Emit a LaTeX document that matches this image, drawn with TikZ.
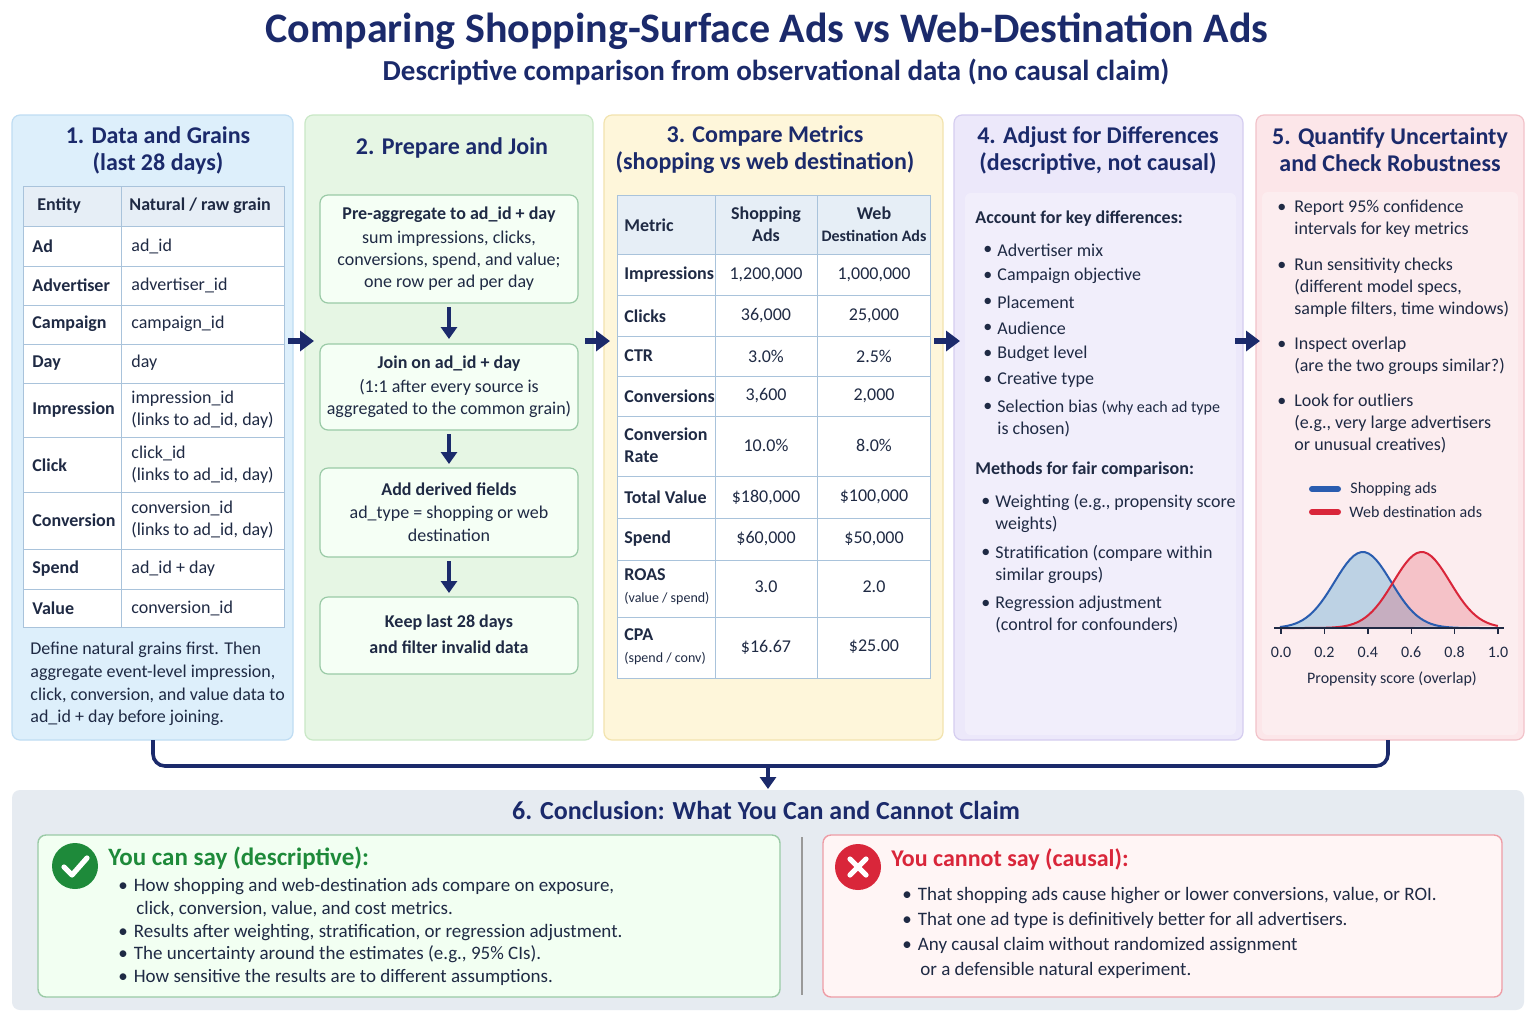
\documentclass[tikz,border=0pt]{standalone}
\usepackage{fontspec}
\setmainfont{Carlito}
\usetikzlibrary{arrows.meta, calc}
\definecolor{navy}{HTML}{1B2A6B}
\definecolor{ink}{HTML}{1F2A44}
\definecolor{tabline}{HTML}{A9C3DB}
\definecolor{tabhead}{HTML}{E6EEF6}
\definecolor{okgreen}{HTML}{1E8A3A}
\definecolor{nored}{HTML}{D9263A}
\definecolor{shopblue}{HTML}{2A5DB0}
\definecolor{fillA}{HTML}{DDEFFB}\definecolor{lineA}{HTML}{BFDDF3}
\definecolor{fillB}{HTML}{E6F6E4}\definecolor{lineB}{HTML}{C9E8C6}
\definecolor{fillC}{HTML}{FEF6DA}\definecolor{lineC}{HTML}{F2E3AE}
\definecolor{fillD}{HTML}{ECE8FA}\definecolor{lineD}{HTML}{D5CDF0}
\definecolor{fillE}{HTML}{FCE6E9}\definecolor{lineE}{HTML}{F2C2C9}
\definecolor{fillF}{HTML}{E6EBF1}
\newcommand{\fs}[2]{\fontsize{#1}{#2}\selectfont}
\tikzset{
  panel/.style={draw=line#1, fill=fill#1, rounded corners=4pt, line width=0.6pt},
  ptitle/.style={font=\fs{12}{13.5}\bfseries, text=navy, align=center},
  txt/.style={font=\fs{9}{11}, text=ink, anchor=west, align=left, inner sep=0pt},
  btxt/.style={txt, font=\fs{9}{11}\bfseries},
  ctxt/.style={font=\fs{9}{11}, text=ink, align=center, inner sep=0pt},
  flowbox/.style={draw=okgreen!45, fill=green!4, rounded corners=4pt, line width=0.6pt},
  down/.style={-{Triangle[length=6pt,width=8pt]}, line width=1.8pt, color=navy},
  stepArrow/.style={-{Triangle[length=7pt,width=10pt]}, line width=2.6pt, color=navy},
}
\begin{document}
\begin{tikzpicture}[x=0.5pt, y=-0.5pt]
\useasboundingbox (0,0) rectangle (1536,1024);
\fill[white] (0,0) rectangle (1536,1024);

% Title
\node[font=\fs{21}{23}\bfseries, text=navy] (title) at (767,31) {Comparing Shopping-Surface Ads vs Web-Destination Ads};
\node[font=\fs{14.5}{16}\bfseries, text=navy] (subtitle) at (776,72) {Descriptive comparison from observational data (no causal claim)};

% Panels
\draw[panel=A] (12,115) rectangle (293,740);
\draw[panel=B] (305,115) rectangle (593,740);
\draw[panel=C] (604,115) rectangle (943,740);
\draw[panel=D] (954,115) rectangle (1243,740);
\draw[panel=E] (1256,115) rectangle (1524,740);

% 1. Data and Grains
\node[ptitle] (t-1) at (158,150) {1. Data and Grains\\(last 28 days)};
\fill[white] (23,186) rectangle (284,627);
\fill[tabhead] (23,186) rectangle (284,226);
\draw[tabline, line width=0.5pt] (23,186) rectangle (284,627);
\draw[tabline, line width=0.5pt] (121,186) -- (121,627);
\foreach \y in {226,266,305,344,383,437,492,549,589}
  \draw[tabline, line width=0.5pt] (23,\y) -- (284,\y);
\node[btxt] (h-ent) at (37,206) {Entity};
\node[btxt] (h-grain) at (129,206) {Natural / raw grain};
\foreach \y/\a/\b [count=\i] in {
    246/Ad/ad\_id,
    285/Advertiser/advertiser\_id,
    324/Campaign/campaign\_id,
    363/Day/day,
    410/Impression/{impression\_id\\(links to ad\_id, day)},
    465/Click/{click\_id\\(links to ad\_id, day)},
    520/Conversion/{conversion\_id\\(links to ad\_id, day)},
    569/Spend/ad\_id + day,
    608/Value/conversion\_id}{
  \node[btxt] (e-\i) at (32,\y) {\a};
  \node[txt] (g-\i) at (131,\y) {\b};
}
\node[txt, font=\fs{9}{11.3}] (note-1) at (30,684) {Define natural grains first. Then\\aggregate event-level impression,\\click, conversion, and value data to\\ad\_id + day before joining.};

% 2. Prepare and Join
\node[ptitle] (t-2) at (452,148) {2. Prepare and Join};
\draw[flowbox] (320,195) rectangle (578,303);
\draw[flowbox] (320,344) rectangle (578,430);
\draw[flowbox] (320,468) rectangle (578,557);
\draw[flowbox] (320,597) rectangle (578,674);
\node[ctxt] (f-1) at (449,249) {\textbf{Pre-aggregate to ad\_id + day}\\[1pt]sum impressions, clicks,\\conversions, spend, and value;\\one row per ad per day};
\node[ctxt] (f-2) at (449,387) {\textbf{Join on ad\_id + day}\\[1pt](1:1 after every source is\\aggregated to the common grain)};
\node[ctxt, font=\fs{9}{11.5}] (f-3) at (449,512) {\textbf{Add derived fields}\\ad\_type = shopping or web\\destination};
\node[ctxt, font=\fs{9}{13}\bfseries] (f-4) at (449,634) {Keep last 28 days\\and filter invalid data};
\coordinate (a1) at (449,307); \coordinate (a2) at (449,339);
\coordinate (b1) at (449,434); \coordinate (b2) at (449,464);
\coordinate (c1) at (449,561); \coordinate (c2) at (449,593);
\draw[down] (a1) -- (a2);
\draw[down] (b1) -- (b2);
\draw[down] (c1) -- (c2);

% 3. Compare Metrics
\node[ptitle] (t-3) at (765,150) {3. Compare Metrics\\(shopping vs web destination)};
\fill[white] (617,195) rectangle (930,678);
\fill[tabhead] (617,195) rectangle (930,254);
\draw[tabline, line width=0.5pt] (617,195) rectangle (930,678);
\draw[tabline, line width=0.5pt] (715,195) -- (715,678);
\draw[tabline, line width=0.5pt] (817,195) -- (817,678);
\foreach \y in {254,295,336,376,416,476,518,560,617}
  \draw[tabline, line width=0.5pt] (617,\y) -- (930,\y);
\node[btxt] (m-h) at (624,225) {Metric};
\node[ctxt, font=\fs{9}{11}\bfseries] (s-h) at (766,224) {Shopping\\Ads};
\node[ctxt, font=\fs{9}{11}\bfseries] (w-h) at (874,224) {Web\\{\fs{8}{11}Destination Ads}};
\foreach \y/\m/\s/\w [count=\i] in {
    275/Impressions/{1,200,000}/{1,000,000},
    316/Clicks/{36,000}/{25,000},
    356/CTR/3.0\%/2.5\%,
    396/Conversions/{3,600}/{2,000},
    445/{Conversion\\Rate}/10.0\%/8.0\%,
    497/Total Value/{\$180,000}/{\$100,000},
    539/Spend/{\$60,000}/{\$50,000},
    587/{ROAS\\{\mdseries\fs{7}{10}(value / spend)}}/3.0/2.0,
    647/{CPA\\{\mdseries\fs{7}{10}(spend / conv)}}/{\$16.67}/{\$25.00}}{
  \node[btxt] (m-\i) at (624,\y) {\m};
  \node[ctxt] (s-\i) at (766,\y) {\s};
  \node[ctxt] (w-\i) at (874,\y) {\w};
}

% 4. Adjust for Differences
\node[ptitle] (t-4) at (1098,150) {4. Adjust for Differences\\(descriptive, not causal)};
\fill[white, opacity=0.3, rounded corners=3pt] (965,193) rectangle (1236,735);
\node[btxt] (k-h) at (975,219) {Account for key differences:};
\foreach \t [count=\i] in {Advertiser mix, Campaign objective, Placement, Audience, Budget level, Creative type}{
  \node[txt] (kb-\i) at (983,{224+26*\i}) {\textbullet};
  \node[txt] (k-\i) at (997,{224+26*\i}) {\t};
}
\node[txt] (kb-7) at (983,407) {\textbullet};
\node[txt] (k-7) at (997,418) {Selection bias {\fs{8}{11}(why each ad type}\\is chosen)};
\node[btxt] (f-h) at (975,470) {Methods for fair comparison:};
\foreach \y/\t [count=\i] in {502/{Weighting (e.g., propensity score\\weights)}, 553/{Stratification (compare within\\similar groups)}, 604/{Regression adjustment\\(control for confounders)}}{
  \node[txt] (fb-\i) at (981,\y) {\textbullet};
  \node[txt, anchor=north west] (fm-\i) at (995,{\y-8}) {\t};
}

% 5. Quantify Uncertainty
\node[ptitle] (t-5) at (1390,150) {5. Quantify Uncertainty\\and Check Robustness};
\fill[white, opacity=0.3, rounded corners=3pt] (1262,192) rectangle (1518,735);
\foreach \y/\t [count=\i] in {208/{Report 95\% confidence\\intervals for key metrics},
    266/{Run sensitivity checks\\(different model specs,\\sample filters, time windows)},
    345/{Inspect overlap\\(are the two groups similar?)},
    402/{Look for outliers\\(e.g., very large advertisers\\or unusual creatives)}}{
  \node[txt] (qb-\i) at (1277,\y) {\textbullet};
  \node[txt, anchor=north west] (q-\i) at (1294,{\y-8}) {\t};
}
\coordinate (lg1a) at (1312,489); \coordinate (lg1b) at (1338,489);
\coordinate (lg2a) at (1312,512); \coordinate (lg2b) at (1338,512);
\draw[line width=3pt, color=shopblue, line cap=round] (lg1a) -- (lg1b);
\draw[line width=3pt, color=nored, line cap=round] (lg2a) -- (lg2b);
\node[txt, font=\fs{8}{10}] (lg-1) at (1350,489) {Shopping ads};
\node[txt, font=\fs{8}{10}] (lg-2) at (1349,512) {Web destination ads};
\fill[shopblue!70!cyan, opacity=0.28] plot[domain=0:1, samples=60] ({1280+218*\x},{628-76*exp(-((\x-0.38)^2)/(2*0.13^2))}) -- cycle;
\fill[nored!80!pink, opacity=0.25] plot[domain=0:1, samples=60] ({1280+218*\x},{628-76*exp(-((\x-0.65)^2)/(2*0.13^2))}) -- cycle;
\draw[line width=1pt, color=shopblue] plot[domain=0:1, samples=60] ({1280+218*\x},{628-76*exp(-((\x-0.38)^2)/(2*0.13^2))});
\draw[line width=1pt, color=nored] plot[domain=0:1, samples=60] ({1280+218*\x},{628-76*exp(-((\x-0.65)^2)/(2*0.13^2))});
\coordinate (ax-l) at (1274,628); \coordinate (ax-r) at (1504,628);
\draw[ink, line width=0.7pt] (ax-l) -- (ax-r);
\foreach \v [count=\i] in {0.0,0.2,0.4,0.6,0.8,1.0}{
  \draw[ink, line width=0.7pt] ({1281+217*\v},628) -- ({1281+217*\v},634);
  \node[ctxt, font=\fs{8}{10}] (tk-\i) at ({1281+217*\v},652) {\v};
}
\node[ctxt, font=\fs{8}{10}] (ax-t) at (1392,679) {Propensity score (overlap)};

% Step arrows
\coordinate (s1-a) at (288,341); \coordinate (s1-b) at (314,341);
\coordinate (s2-a) at (585,341); \coordinate (s2-b) at (610,341);
\coordinate (s3-a) at (934,341); \coordinate (s3-b) at (960,341);
\coordinate (s4-a) at (1235,341); \coordinate (s4-b) at (1260,341);
\foreach \i in {1,2,3,4}
  \draw[stepArrow] (s\i-a) -- (s\i-b);

% Bracket to conclusion
\coordinate (br-l) at (153,740); \coordinate (br-r) at (1388,740);
\coordinate (br-m) at (768,766); \coordinate (br-e) at (768,789);
\draw[navy, line width=1.8pt, rounded corners=6pt] (br-l) |- (br-r |- br-m) -- (br-r);
\draw[down] (br-m) -- (br-e);

% 6. Conclusion
\fill[fillF, rounded corners=4pt] (12,790) rectangle (1524,1010);
\node[ptitle, font=\fs{13}{15}\bfseries] (t-6) at (766,810) {6. Conclusion: What You Can and Cannot Claim};
\draw[okgreen!45, fill=green!5, line width=0.7pt, rounded corners=4pt] (38,835) rectangle (780,997);
\draw[nored!45, fill=red!4, line width=0.7pt, rounded corners=4pt] (823,835) rectangle (1502,997);
\coordinate (dv-t) at (802,837); \coordinate (dv-b) at (802,995);
\draw[black!40, line width=0.6pt] (dv-t) -- (dv-b);

\node[circle, fill=okgreen, minimum size=23pt, inner sep=0pt] (ok) at (75,866) {};
\draw[white, line width=2.6pt, line cap=round, line join=round] ($(ok)+(-11,1)$) -- ($(ok)+(-3,9)$) -- ($(ok)+(12,-8)$);
\node[btxt, font=\fs{12.5}{14}\bfseries, text=okgreen] (can-h) at (108,858) {You can say (descriptive):};
\node[txt, font=\fs{9.5}{11.4}] (can) at (118,932) {\textbullet\hspace{3pt}How shopping and web-destination ads compare on exposure,\\\hspace{9pt}click, conversion, value, and cost metrics.\\\textbullet\hspace{3pt}Results after weighting, stratification, or regression adjustment.\\\textbullet\hspace{3pt}The uncertainty around the estimates (e.g., 95\% CIs).\\\textbullet\hspace{3pt}How sensitive the results are to different assumptions.};

\node[circle, fill=nored, minimum size=23pt, inner sep=0pt] (no) at (858,867) {};
\draw[white, line width=2.6pt, line cap=round] ($(no)+(-8,-8)$) -- ($(no)+(8,8)$);
\draw[white, line width=2.6pt, line cap=round] ($(no)+(-8,8)$) -- ($(no)+(8,-8)$);
\node[btxt, font=\fs{12}{14}\bfseries, text=nored] (cant-h) at (891,859) {You cannot say (causal):};
\node[txt, font=\fs{9.5}{12.5}] (cant) at (902,933) {\textbullet\hspace{3pt}That shopping ads cause higher or lower conversions, value, or ROI.\\\textbullet\hspace{3pt}That one ad type is definitively better for all advertisers.\\\textbullet\hspace{3pt}Any causal claim without randomized assignment\\\hspace{9pt}or a defensible natural experiment.};
\end{tikzpicture}
\end{document}
